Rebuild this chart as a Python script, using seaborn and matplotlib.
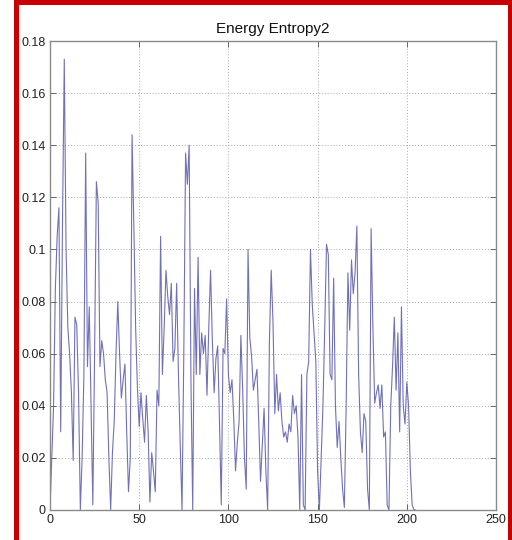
import matplotlib
matplotlib.use("Agg")
import matplotlib.pyplot as plt
from matplotlib.patches import Rectangle
import numpy as np
import pandas as pd
import seaborn as sns

# Energy entropy per frame (frame index 0..205)
entropy = [
    0.000, 0.020, 0.040, 0.085, 0.105, 0.116, 0.030, 0.110, 0.173, 0.100,
    0.070, 0.060, 0.045, 0.019, 0.074, 0.071, 0.045, 0.000, 0.020, 0.052,
    0.137, 0.055, 0.078, 0.040, 0.002, 0.060, 0.126, 0.118, 0.055, 0.065,
    0.060, 0.050, 0.045, 0.020, 0.000, 0.022, 0.034, 0.060, 0.080, 0.060,
    0.043, 0.050, 0.056, 0.030, 0.007, 0.020, 0.144, 0.109, 0.070, 0.047,
    0.032, 0.045, 0.035, 0.026, 0.044, 0.030, 0.003, 0.022, 0.015, 0.007,
    0.046, 0.040, 0.105, 0.052, 0.070, 0.092, 0.082, 0.075, 0.087, 0.057,
    0.062, 0.087, 0.052, 0.025, 0.000, 0.060, 0.137, 0.125, 0.140, 0.050,
    0.000, 0.085, 0.052, 0.097, 0.052, 0.068, 0.060, 0.067, 0.044, 0.070,
    0.092, 0.065, 0.045, 0.058, 0.063, 0.034, 0.002, 0.062, 0.060, 0.081,
    0.052, 0.045, 0.050, 0.035, 0.015, 0.026, 0.034, 0.067, 0.046, 0.020,
    0.008, 0.100, 0.066, 0.059, 0.046, 0.050, 0.054, 0.034, 0.011, 0.025,
    0.039, 0.015, 0.000, 0.065, 0.092, 0.072, 0.037, 0.052, 0.038, 0.045,
    0.034, 0.028, 0.030, 0.026, 0.033, 0.030, 0.044, 0.037, 0.040, 0.028,
    0.000, 0.052, 0.002, 0.000, 0.052, 0.057, 0.100, 0.079, 0.068, 0.057,
    0.015, 0.000, 0.020, 0.040, 0.070, 0.102, 0.098, 0.052, 0.050, 0.089,
    0.040, 0.024, 0.034, 0.020, 0.008, 0.001, 0.040, 0.091, 0.069, 0.096,
    0.083, 0.091, 0.109, 0.052, 0.030, 0.022, 0.037, 0.034, 0.008, 0.000,
    0.108, 0.070, 0.041, 0.045, 0.048, 0.039, 0.048, 0.028, 0.030, 0.002,
    0.000, 0.040, 0.055, 0.074, 0.046, 0.068, 0.030, 0.078, 0.040, 0.033,
    0.049, 0.040, 0.015, 0.002, 0.000, 0.000,
]
frames = list(range(len(entropy)))

x_ticks = [0, 50, 100, 150, 200, 250]
y_ticks = [0, 0.02, 0.04, 0.06, 0.08, 0.1, 0.12, 0.14, 0.16, 0.18]
y_tick_labels = ["0", "0.02", "0.04", "0.06", "0.08", "0.1", "0.12", "0.14", "0.16", "0.18"]
title = "Energy Entropy2"

sns.set_style("white")
plt.rcParams["font.family"] = ["Liberation Sans", "DejaVu Sans"]

df = pd.DataFrame({"frame": frames, "entropy": entropy})

fig = plt.figure(figsize=(5.12, 5.40), dpi=100)
fig.patch.set_facecolor("white")
ax = fig.add_axes([50 / 512, 30 / 540, 446 / 512, 469 / 540])

sns.lineplot(data=df, x="frame", y="entropy", ax=ax, color="#5858aa",
             linewidth=0.8, alpha=0.85)

ax.set_xlim(0, 250)
ax.set_ylim(0, 0.18)
ax.set_xticks(x_ticks)
ax.set_xticklabels([str(t) for t in x_ticks])
ax.set_yticks(y_ticks)
ax.set_yticklabels(y_tick_labels)
ax.set_xlabel("")
ax.set_ylabel("")
ax.set_title(title, fontsize=11, pad=6, color="#111111")

ax.grid(True, linestyle=(0, (1, 2)), color="#a8a8a8", linewidth=0.7)
for s in ax.spines.values():
    s.set_color("#8a8a8a")
    s.set_linewidth(1.0)
ax.tick_params(direction="in", length=4, width=0.7, color="#666666",
               labelsize=9, labelcolor="#222222", top=True, right=True,
               bottom=True, left=True, pad=3)

# red frame around the figure
fig.patches.append(Rectangle((15.5 / 512, -0.05), (494 / 512), 1.0 + 0.05 - 2.5 / 540,
                             transform=fig.transFigure, fill=False,
                             edgecolor="#c80000", linewidth=3.6, zorder=10))

fig.savefig("out.png", dpi=100, facecolor="white")
